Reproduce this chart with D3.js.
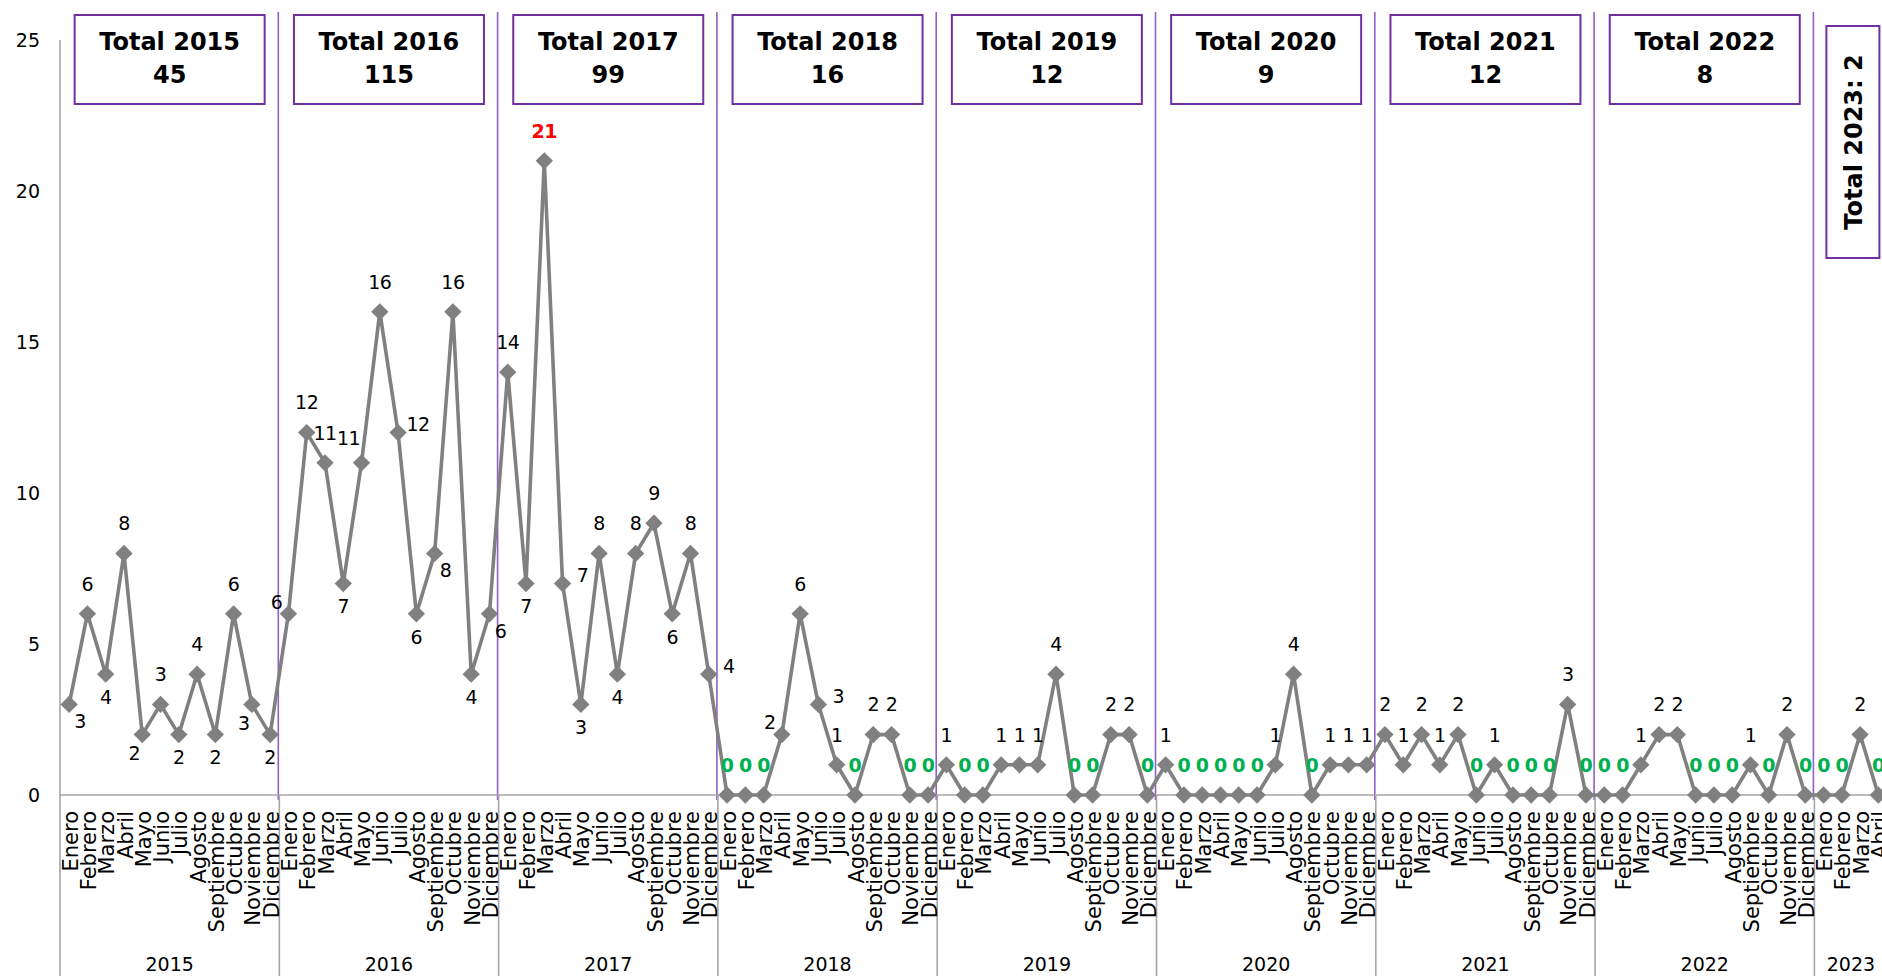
<!DOCTYPE html>
<html><head><meta charset="utf-8">
<script src="https://cdn.jsdelivr.net/npm/d3@7"></script>
<style>body{margin:0;background:#fff;} svg{display:block;}</style>
</head><body>
<svg id="chart" width="1882" height="976"></svg>
<script>
// ---------- DATA ----------
const years = ["2015","2016","2017","2018","2019","2020","2021","2022","2023"];
const months = ["Enero","Febrero","Marzo","Abril","Mayo","Junio","Julio","Agosto","Septiembre","Octubre","Noviembre","Diciembre"];
const values2015 = [3,6,4,8,2,3,2,4,2,6,3,2];
const values2016 = [6,12,11,7,11,16,12,6,8,16,4,6];
const values2017 = [14,7,21,7,3,8,4,8,9,6,8,4];
const values2018 = [0,0,0,2,6,3,1,0,2,2,0,0];
const values2019 = [1,0,0,1,1,1,4,0,0,2,2,0];
const values2020 = [1,0,0,0,0,0,1,4,0,1,1,1];
const values2021 = [2,1,2,1,2,0,1,0,0,0,3,0];
const values2022 = [0,0,1,2,2,0,0,0,1,0,2,0];
const values2023 = [0,0,2,0];
const yearTotals = [45,115,99,16,12,9,12,8,2];
const yTicks = [0,5,10,15,20,25];
// label placement codes (a=above, b=below, r=right, l=left, al/bl/br diagonals)
const place2015 = ["br","a","b","a","bl","a","b","a","b","a","bl","b"];
const place2016 = ["l","a","a","b","al","a","r","b","br","a","b","br"];
const place2017 = ["a","b","a","r","b","a","b","a","a","b","a","r"];
const place2018 = ["a","a","a","l","a","r","a","a","a","a","a","a"];

// ---------- BUILD ----------
const perYear = [values2015,values2016,values2017,values2018,values2019,values2020,values2021,values2022,values2023];
const placeYear = [place2015,place2016,place2017,place2018];
const series = [];
perYear.forEach((arr, yi) => arr.forEach((v, mi) => series.push({
  year: years[yi], month: months[mi], value: v,
  place: (placeYear[yi] && placeYear[yi][mi]) || "a"
})));
const N = series.length; // 100 category slots

const svg = d3.select("#chart");
const W = 1882, H = 976;
const x = d3.scaleLinear().domain([0, N]).range([60, 1887.5]);
const y = d3.scaleLinear().domain([0, 25]).range([795, 40]);
const yearStarts = []; { let s = 0; perYear.forEach(a => { yearStarts.push(s); s += a.length; }); yearStarts.push(s); }

const FONT = "'DejaVu Sans', sans-serif";
const purple = "#7030A0", purpleLine = "#9060C8", gray = "#A6A6A6", lineGray = "#808080";

// purple year separators
svg.append("g").selectAll("line").data(yearStarts.slice(1, -1)).join("line")
  .attr("x1", d => x(d) - 1).attr("x2", d => x(d) - 1)
  .attr("y1", 12).attr("y2", 800)
  .attr("stroke", purpleLine).attr("stroke-width", 1.6);

// axes
const ax = svg.append("g").attr("stroke", gray).attr("stroke-width", 1.6);
ax.append("line").attr("x1", 60).attr("x2", 60).attr("y1", y(25)).attr("y2", H);
ax.append("line").attr("x1", 60).attr("x2", W).attr("y1", y(0)).attr("y2", y(0));
ax.selectAll(".sep").data(yearStarts.slice(1)).join("line")
  .attr("x1", d => x(d)).attr("x2", d => x(d)).attr("y1", y(0)).attr("y2", H);

// y tick labels
svg.append("g").selectAll("text").data(yTicks).join("text")
  .attr("x", 40).attr("y", d => y(d)).attr("dy", "0.36em")
  .attr("text-anchor", "end").attr("font-family", FONT).attr("font-size", 19)
  .attr("fill", "#000").text(d => d);

// month labels
svg.append("g").selectAll("text").data(series).join("text")
  .attr("transform", (d, i) => `translate(${x(i + 0.5) + 1},811) rotate(-90)`)
  .attr("dy", "0.36em").attr("text-anchor", "end")
  .attr("font-family", FONT).attr("font-size", 21).attr("fill", "#000")
  .text(d => d.month);

// year labels
svg.append("g").selectAll("text").data(years).join("text")
  .attr("x", (d, i) => (x(yearStarts[i]) + x(yearStarts[i + 1])) / 2)
  .attr("y", 964).attr("dy", "0.36em").attr("text-anchor", "middle")
  .attr("font-family", FONT).attr("font-size", 19).attr("fill", "#000").text(d => d);

// line
const line = d3.line().x((d, i) => x(i + 0.5)).y(d => y(d.value));
svg.append("path").datum(series).attr("d", line)
  .attr("fill", "none").attr("stroke", lineGray).attr("stroke-width", 3.6)
  .attr("stroke-linejoin", "round");

// markers
const sym = d3.symbol(d3.symbolSquare, 150);
svg.append("g").selectAll("path").data(series).join("path")
  .attr("d", sym)
  .attr("transform", (d, i) => `translate(${x(i + 0.5)},${y(d.value)}) rotate(45)`)
  .attr("fill", lineGray);

// data labels
const off = { a: [0, -30], b: [0, 23], r: [20, -8], l: [-12, -12], al: [-13, -25], bl: [-8, 19], br: [11, 17] };
const maxV = d3.max(series, d => d.value);
svg.append("g").selectAll("text").data(series).join("text")
  .attr("x", (d, i) => x(i + 0.5) + off[d.place][0])
  .attr("y", d => y(d.value) + off[d.place][1])
  .attr("dy", "0.36em").attr("text-anchor", "middle")
  .attr("font-family", FONT).attr("font-size", 19)
  .attr("letter-spacing", -0.5)
  .attr("font-weight", d => (d.value === 0 || d.value === maxV) ? "bold" : "normal")
  .attr("fill", d => d.value === 0 ? "#00B050" : (d.value === maxV ? "#FF0000" : "#000"))
  .text(d => d.value);

// total boxes
const boxes = svg.append("g");
years.forEach((yr, i) => {
  const cx = (x(yearStarts[i]) + x(yearStarts[i] + 12)) / 2;
  if (i < years.length - 1) {
    const g = boxes.append("g");
    g.append("rect").attr("x", cx - 95).attr("y", 15).attr("width", 190).attr("height", 89)
      .attr("fill", "#fff").attr("stroke", purple).attr("stroke-width", 2);
    g.append("text").attr("x", cx).attr("y", 41).attr("dy", "0.36em").attr("text-anchor", "middle")
      .attr("font-family", FONT).attr("font-weight", "bold").attr("font-size", 24).attr("fill", "#000")
      .text("Total " + yr);
    g.append("text").attr("x", cx).attr("y", 74).attr("dy", "0.36em").attr("text-anchor", "middle")
      .attr("font-family", FONT).attr("font-weight", "bold").attr("font-size", 24).attr("fill", "#000")
      .text(yearTotals[i]);
  } else {
    const bx = x(yearStarts[i]) + 12;
    const g = boxes.append("g");
    g.append("rect").attr("x", bx).attr("y", 26).attr("width", 53).attr("height", 232)
      .attr("fill", "#fff").attr("stroke", purple).attr("stroke-width", 2);
    g.append("text").attr("transform", `translate(${bx + 27},142) rotate(-90)`)
      .attr("dy", "0.36em").attr("text-anchor", "middle")
      .attr("font-family", FONT).attr("font-weight", "bold").attr("font-size", 24).attr("fill", "#000")
      .text("Total " + yr + ": " + yearTotals[i]);
  }
});
</script>
</body></html>
